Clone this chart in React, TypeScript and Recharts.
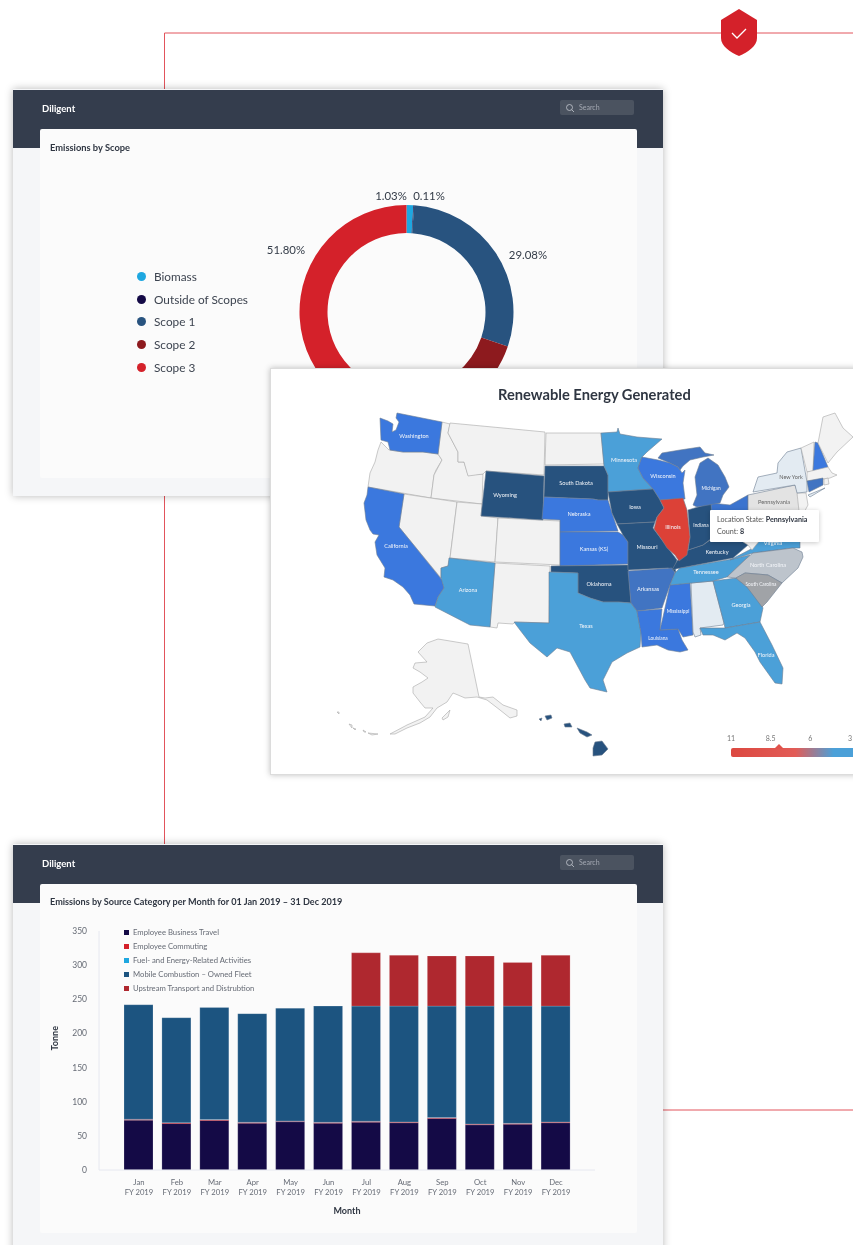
import {
  Bar,
  BarChart,
  Legend,
  Pie,
  PieChart,
  ReferenceDot,
  Scatter,
  ScatterChart,
  XAxis,
  YAxis,
} from 'recharts';

const FONT = 'Lato, sans-serif';

// donut: emissions by scope
const scopeNames = ['Biomass', 'Outside of Scopes', 'Scope 1', 'Scope 2', 'Scope 3'];
const scopeShares = [1.03, 0.11, 29.08, 17.98, 51.8];
const scopeColors = ['#1ea7e0', '#140a46', '#28537f', '#8d1a1e', '#d4212a'];
const scopeLabelAnchors: Record<string, [number, number]> = {
  Biomass: [351, 66],
  'Outside of Scopes': [389, 66],
  'Scope 1': [488, 125],
  'Scope 3': [246, 120],
};

// stacked bars: emissions per month
const months = ['Jan', 'Feb', 'Mar', 'Apr', 'May', 'Jun', 'Jul', 'Aug', 'Sep', 'Oct', 'Nov', 'Dec'];
const businessTravel = [73, 68, 72.5, 68.5, 70.5, 68.5, 70, 69, 75.5, 66, 67, 69];
const commuting = [1, 1, 1, 1, 1, 1, 1, 1, 1, 1, 1, 1];
const fuelEnergy = [0.3, 0.3, 0.3, 0.3, 0.3, 0.3, 0.3, 0.3, 0.3, 0.3, 0.3, 0.3];
const mobileFleet = [167.7, 153.7, 164.2, 159.2, 165.2, 170.2, 168.7, 169.7, 163.2, 172.7, 171.7, 169.7];
const upstream = [0, 0, 0, 0, 0, 0, 78, 74.5, 73.5, 73.5, 64, 74.5];
const tonneTicks = [0, 50, 100, 150, 200, 250, 300, 350];
const sourceSeries = [
  { key: 'travel', name: 'Employee Business Travel', color: '#140a46' },
  { key: 'commuting', name: 'Employee Commuting', color: '#d4212a' },
  { key: 'fuel', name: 'Fuel- and Energy-Related Activities', color: '#1ea7e0' },
  { key: 'fleet', name: 'Mobile Combustion – Owned Fleet', color: '#1c5480' },
  { key: 'upstream', name: 'Upstream Transport and Distrubtion', color: '#af282f' },
];
const thinSeries = ['commuting', 'fuel'];
const monthRows = months.map((month, i) => ({
  month,
  travel: businessTravel[i],
  commuting: commuting[i],
  fuel: fuelEnergy[i],
  fleet: mobileFleet[i],
  upstream: upstream[i],
}));

// map outlines (x, y on the map's own grid)
type Ring = [number, number][];
const washington: Ring = [[397,413],[442,422],[438,454],[423,452],[403,452],[390,450],[388,442],[381,440],[380,418],[388,421],[393,424],[392,432],[396,430],[399,422],[396,418]];
const oregon: Ring = [[381,442],[389,450],[403,452],[423,452],[438,454],[442,460],[436,470],[434,475],[431,498],[368,487],[370,473],[375,462],[378,450]];
const california: Ring = [[368,487],[404,494],[399,527],[442,580],[444,588],[438,597],[435,606],[414,604],[410,595],[403,587],[393,580],[384,577],[385,568],[377,555],[375,542],[379,535],[373,534],[370,530],[366,520],[364,503],[367,495]];
const nevada: Ring = [[404,494],[457,502],[450,558],[448,566],[441,568],[441,578],[399,527]];
const idaho: Ring = [[442,422],[450,424],[448,433],[458,452],[458,462],[464,462],[468,475],[483,474],[482,504],[431,498],[434,475],[442,460],[438,454]];
const montana: Ring = [[450,423],[545,432],[544,475],[486,471],[483,474],[468,476],[464,462],[458,462],[458,452],[448,433]];
const wyoming: Ring = [[486,471],[544,476],[543,520],[481,516]];
const utah: Ring = [[457,502],[482,504],[481,516],[498,518],[495,562],[450,558]];
const colorado: Ring = [[498,518],[560,521],[560,565],[495,562]];
const newMexico: Ring = [[495,563],[550,566],[549,623],[515,622],[513,624],[498,623],[497,628],[490,627]];
const arizona: Ring = [[449,558],[495,563],[490,627],[470,625],[435,607],[438,597],[444,588],[441,578],[441,568],[448,566]];
const northDakota: Ring = [[546,433],[601,433],[604,464],[545,465]];
const southDakota: Ring = [[545,466],[604,466],[608,475],[608,500],[598,500],[593,499],[544,497]];
const nebraska: Ring = [[544,497],[593,499],[598,500],[608,500],[612,513],[618,531],[560,532],[560,520],[542,519]];
const kansas: Ring = [[560,532],[618,532],[623,535],[628,542],[628,564],[560,566]];
const oklahoma: Ring = [[551,566],[628,565],[631,603],[618,602],[603,602],[590,598],[578,593],[578,573],[551,572]];
const texas: Ring = [[549,572],[578,573],[578,593],[590,598],[603,602],[618,602],[631,603],[637,611],[641,633],[640,647],[627,653],[612,662],[603,680],[607,692],[590,688],[585,680],[570,652],[557,648],[547,657],[530,643],[520,630],[514,622],[549,623]];
const minnesota: Ring = [[601,433],[617,432],[618,428],[620,434],[637,437],[662,439],[647,452],[642,457],[638,468],[643,478],[653,489],[608,492],[608,475],[604,466]];
const wisconsin: Ring = [[642,457],[658,460],[670,463],[678,467],[682,473],[685,470],[683,483],[685,499],[660,500],[653,489],[643,478],[638,468]];
const iowa: Ring = [[608,492],[653,489],[660,500],[664,508],[657,517],[655,522],[617,524],[612,513]];
const missouri: Ring = [[617,524],[655,522],[653,528],[662,540],[668,548],[677,560],[675,567],[676,573],[672,570],[668,568],[628,570],[628,542],[623,535]];
const illinois: Ring = [[660,500],[683,498],[687,510],[690,537],[687,555],[679,561],[675,555],[667,548],[662,540],[654,529],[657,517],[664,508]];
const arkansas: Ring = [[628,571],[672,568],[675,573],[670,585],[662,608],[637,611],[631,603]];
const louisiana: Ring = [[637,611],[662,609],[660,630],[678,629],[682,640],[688,650],[680,652],[668,650],[657,645],[642,647],[641,633]];
const mississippi: Ring = [[670,585],[690,583],[693,635],[683,637],[678,629],[660,630],[663,617]];
const alabama: Ring = [[691,583],[713,581],[724,623],[723,625],[700,628],[701,635],[695,637],[693,632]];
const georgia: Ring = [[713,581],[736,578],[747,587],[760,602],[763,608],[760,622],[725,628],[724,623]];
const florida: Ring = [[700,628],[725,628],[760,622],[772,645],[783,668],[782,684],[775,683],[760,662],[755,652],[745,638],[737,633],[725,640],[713,635],[703,635]];
const southCarolina: Ring = [[736,578],[745,573],[768,575],[782,583],[767,602],[762,607],[747,587]];
const northCarolina: Ring = [[727,577],[747,558],[753,553],[793,548],[802,552],[803,557],[798,568],[782,583],[768,575],[745,573],[736,578]];
const tennessee: Ring = [[675,573],[680,568],[733,559],[750,555],[747,558],[727,577],[713,581],[670,585]];
const virginia: Ring = [[730,560],[753,548],[765,535],[800,533],[800,548],[793,548],[753,553]];
const kentucky: Ring = [[672,570],[677,561],[688,550],[703,545],[713,538],[742,535],[748,545],[733,558],[680,568]];
const indiana: Ring = [[688,510],[711,503],[716,535],[703,545],[688,550],[690,537]];
const ohio: Ring = [[711,503],[730,505],[748,495],[748,510],[747,538],[713,538]];
const michiganLower: Ring = [[693,505],[697,495],[695,477],[700,463],[708,458],[718,465],[725,477],[729,487],[723,495],[720,503],[697,507]];
const michiganUpper: Ring = [[658,458],[662,453],[680,450],[700,447],[705,453],[714,455],[703,457],[690,460],[683,466],[680,470],[678,467],[670,463]];
const pennsylvania: Ring = [[748,495],[795,485],[801,502],[800,518],[748,520]];
const westVirginia: Ring = [[740,540],[748,545],[752,550],[760,540],[765,535],[760,510],[748,510]];
const newJersey: Ring = [[797,493],[806,493],[808,505],[800,520]];
const newYork: Ring = [[753,492],[758,477],[777,473],[778,463],[787,452],[801,448],[807,482],[807,492],[797,493],[795,485]];
const longIsland: Ring = [[808,495],[825,488],[810,497]];
const vermont: Ring = [[801,448],[814,442],[813,471],[807,472]];
const newHampshire: Ring = [[815,442],[818,443],[828,467],[825,470],[813,471]];
const maine: Ring = [[823,417],[835,413],[843,428],[853,437],[837,452],[828,463],[818,443]];
const massachusetts: Ring = [[807,472],[828,467],[832,473],[837,475],[830,478],[824,479],[807,481]];
const connecticut: Ring = [[807,481],[823,478],[823,485],[809,492]];
const rhodeIsland: Ring = [[824,479],[828,478],[829,484],[824,485]];
const hawaiiBig: Ring = [[593,748],[595,742],[602,741],[608,749],[602,755],[593,756]];
const hawaiiMaui: Ring = [[577,728],[587,732],[592,735],[587,737],[580,733]];
const hawaiiOahu: Ring = [[564,724],[570,723],[572,727],[565,727]];
const hawaiiKauai: Ring = [[545,716],[551,715],[552,718],[547,720]];
const hawaiiNiihau: Ring = [[539,719],[542,718],[541,721]];
const alaska: Ring = [[438,639],[468,644],[479,697],[485,698],[493,697],[503,705],[517,710],[517,716],[510,718],[500,710],[487,700],[477,697],[465,698],[458,695],[453,693],[447,702],[437,708],[430,717],[420,723],[407,728],[395,734],[390,734],[407,725],[425,717],[433,708],[425,708],[420,702],[413,693],[413,687],[422,682],[428,678],[420,672],[413,668],[415,663],[427,662],[418,652],[427,643]];
const kodiak: Ring = [[442,718],[450,710],[448,717],[443,720]];
const aleutianA: Ring = [[337,712],[339,712],[339,714]];
const aleutianB: Ring = [[349,724],[352,725],[352,728]];
const aleutianC: Ring = [[353,728],[356,729],[355,730]];
const aleutianD: Ring = [[363,730],[366,732],[364,732]];
const aleutianE: Ring = [[368,733],[378,734],[372,735]];

const NAVY = '#27527e';
const BLUE = '#3b78de';
const SKY = '#4ba0d8';
const MID = '#4174c2';
const PALE = '#f2f2f2';

const mapShapes: { ring: Ring; fill: string }[] = [
  { ring: oregon, fill: PALE }, { ring: idaho, fill: PALE }, { ring: montana, fill: PALE },
  { ring: nevada, fill: PALE }, { ring: utah, fill: PALE }, { ring: colorado, fill: PALE },
  { ring: newMexico, fill: PALE }, { ring: northDakota, fill: PALE },
  { ring: washington, fill: BLUE }, { ring: california, fill: BLUE },
  { ring: wyoming, fill: NAVY }, { ring: arizona, fill: SKY },
  { ring: southDakota, fill: NAVY }, { ring: nebraska, fill: BLUE }, { ring: kansas, fill: BLUE },
  { ring: oklahoma, fill: NAVY }, { ring: texas, fill: SKY }, { ring: minnesota, fill: SKY },
  { ring: wisconsin, fill: BLUE }, { ring: iowa, fill: NAVY }, { ring: missouri, fill: NAVY },
  { ring: arkansas, fill: MID }, { ring: louisiana, fill: BLUE }, { ring: mississippi, fill: BLUE },
  { ring: alabama, fill: '#e3ebf2' }, { ring: georgia, fill: SKY }, { ring: florida, fill: SKY },
  { ring: tennessee, fill: SKY }, { ring: virginia, fill: SKY }, { ring: kentucky, fill: NAVY },
  { ring: indiana, fill: NAVY }, { ring: ohio, fill: '#3b74cf' }, { ring: illinois, fill: '#dc4137' },
  { ring: michiganLower, fill: MID }, { ring: michiganUpper, fill: MID },
  { ring: westVirginia, fill: PALE }, { ring: pennsylvania, fill: '#e3e3e3' },
  { ring: northCarolina, fill: '#bdc4cc' }, { ring: southCarolina, fill: '#a0a3a7' },
  { ring: newJersey, fill: PALE }, { ring: newYork, fill: '#e3ebf2' }, { ring: longIsland, fill: '#e3ebf2' },
  { ring: vermont, fill: PALE }, { ring: newHampshire, fill: BLUE }, { ring: maine, fill: PALE },
  { ring: massachusetts, fill: PALE }, { ring: connecticut, fill: MID }, { ring: rhodeIsland, fill: PALE },
  { ring: hawaiiBig, fill: NAVY }, { ring: hawaiiMaui, fill: NAVY }, { ring: hawaiiOahu, fill: NAVY },
  { ring: hawaiiKauai, fill: NAVY }, { ring: hawaiiNiihau, fill: NAVY },
  { ring: alaska, fill: PALE }, { ring: kodiak, fill: PALE }, { ring: aleutianA, fill: PALE },
  { ring: aleutianB, fill: PALE }, { ring: aleutianC, fill: PALE }, { ring: aleutianD, fill: PALE },
  { ring: aleutianE, fill: PALE },
];

const stateLabels: [string, number, number][] = [
  ['Washington', 414, 436], ['California', 396, 546], ['Wyoming', 505, 495], ['Arizona', 468, 590],
  ['South Dakota', 576, 483], ['Nebraska', 579, 514], ['Kansas (KS)', 594, 549], ['Oklahoma', 599, 584],
  ['Texas', 586, 626], ['Minnesota', 624, 460], ['Wisconsin', 663, 476], ['Iowa', 635, 507],
  ['Missouri', 647, 547], ['Illinois', 673, 527], ['Arkansas', 648, 589], ['Mississippi', 678, 611],
  ['Louisiana', 658, 638], ['Indiana', 701, 525], ['Kentucky', 717, 552], ['Tennessee', 706, 572],
  ['Michigan', 711, 488], ['New York', 791, 477], ['Pennsylvania', 774, 502], ['Virginia', 773, 543],
  ['North Carolina', 768, 565], ['South Carolina', 761, 584], ['Georgia', 741, 605], ['Florida', 766, 655],
];
const darkLabels = ['New York', 'Pennsylvania'];
const smallLabels = ['Mississippi', 'Louisiana', 'South Carolina', 'Michigan', 'Indiana'];

const gradientTicks = ['11', '8.5', '6', '3'];

function ScopeLabel(props: any) {
  const anchor = scopeLabelAnchors[props.name];
  if (!anchor) return null;
  return (
    <text x={anchor[0]} y={anchor[1] + 2} fontSize={11.4} fill="#333b47" textAnchor="middle" dominantBaseline="middle" fontFamily={FONT}>
      {props.value.toFixed(2)}%
    </text>
  );
}

function ScopeLegend({ payload }: any) {
  return (
    <div>
      {(payload ?? []).map((item: any) => (
        <div key={item.value} style={{ display: 'flex', alignItems: 'center', height: 22.7, fontFamily: FONT, fontSize: 11.8, color: '#3d4450' }}>
          <span style={{ width: 9, height: 9, borderRadius: '50%', background: item.color, marginRight: 8 }} />
          {item.value}
        </div>
      ))}
    </div>
  );
}

function SourceLegend({ payload }: any) {
  return (
    <div>
      {(payload ?? []).map((item: any) => (
        <div key={item.value} style={{ display: 'flex', alignItems: 'center', height: 14, fontFamily: FONT, fontSize: 7.7, color: '#666b75' }}>
          <span style={{ width: 5, height: 5, background: item.color, marginRight: 4 }} />
          {item.value}
        </div>
      ))}
    </div>
  );
}

function MonthTick({ x, y, payload }: any) {
  return (
    <text x={x} y={y} fontSize={7.7} fill="#666b75" textAnchor="middle" fontFamily={FONT}>
      <tspan x={x} dy={7}>{payload.value}</tspan>
      <tspan x={x} dy={10}>FY 2019</tspan>
    </text>
  );
}

function Header({ title, top }: { title: string; top: number }) {
  return (
    <div style={{ position: 'absolute', left: 13, top, width: 650, height: 58, background: '#343d4d' }}>
      <span style={{ position: 'absolute', left: 29, top: 12.5, color: '#fff', fontWeight: 700, fontSize: 9.5, fontFamily: FONT }}>{title}</span>
      <div style={{ position: 'absolute', left: 547, top: 10, width: 74, height: 15, background: '#4b5360', borderRadius: 2 }}>
        <svg width="10" height="10" style={{ position: 'absolute', left: 5, top: 3 }}>
          <circle cx="4.5" cy="4.5" r="3" fill="none" stroke="#c5c9d0" strokeWidth="0.8" />
          <line x1="6.7" y1="6.7" x2="9" y2="9" stroke="#c5c9d0" strokeWidth="0.8" />
        </svg>
        <span style={{ position: 'absolute', left: 19, top: 3, fontSize: 7, color: '#a3a8b2', fontFamily: FONT }}>Search</span>
      </div>
    </div>
  );
}

export default function App() {
  return (
    <div style={{ position: 'absolute', left: 0, top: 0, width: 853, height: 1245, overflow: 'hidden', background: '#fff', fontFamily: FONT, filter: 'blur(0.35px)' }}>
      {/* connector lines and shield */}
      <svg width="853" height="1245" style={{ position: 'absolute', left: 0, top: 0 }}>
        <path d="M164.5 89V33H853M164.5 496V845M663 1110H853" fill="none" stroke="#e2545c" strokeWidth="1" />
        <path d="M739 9L757 20V38C757 46 748 52 739 56C730 52 721 46 721 38V20Z" fill="#d4212a" />
        <path d="M732 33L737 38L746 29" fill="none" stroke="#fff" strokeWidth="1.3" />
      </svg>

      {/* top panel */}
      <div style={{ position: 'absolute', left: 13, top: 89, width: 650, height: 407, background: '#f5f6f8', boxShadow: '0 0 8px rgba(0,0,0,0.28)' }} />
      <Header title="Diligent" top={90} />
      <div style={{ position: 'absolute', left: 40, top: 129, width: 597, height: 349, background: '#fbfbfb', borderRadius: 2 }}>
        <div style={{ position: 'absolute', left: 10, top: 13, fontSize: 9.3, fontWeight: 700, color: '#2f3642' }}>Emissions by Scope</div>
        <PieChart width={597} height={349} margin={{ top: 0, right: 0, bottom: 0, left: 0 }} style={{ position: 'absolute', left: 0, top: 0 }}>
          <Pie
            data={scopeNames.map((name, i) => ({ name, value: scopeShares[i], fill: scopeColors[i] }))}
            dataKey="value"
            nameKey="name"
            cx={366.5}
            cy={183}
            innerRadius={79}
            outerRadius={107}
            startAngle={90}
            endAngle={-270}
            stroke="none"
            label={ScopeLabel}
            labelLine={false}
            isAnimationActive={false}
          />
          <Legend layout="vertical" align="center" verticalAlign="middle" wrapperStyle={{ left: 97, top: 136, width: 140 }} content={ScopeLegend} />
        </PieChart>
      </div>

      {/* map panel */}
      <div style={{ position: 'absolute', left: 270, top: 368, width: 590, height: 407, background: '#fff', border: '1px solid #dcdcdc', boxSizing: 'border-box', boxShadow: '0 0 6px rgba(0,0,0,0.25)' }} />
      <div style={{ position: 'absolute', left: 498, top: 385, whiteSpace: 'nowrap', fontSize: 14.7, fontWeight: 700, color: '#2f3642', lineHeight: '19px' }}>
        Renewable Energy Generated
      </div>
      <ScatterChart width={583} height={406} margin={{ top: 0, right: 0, bottom: 0, left: 0 }} style={{ position: 'absolute', left: 270, top: 368 }}>
        <XAxis type="number" dataKey="x" domain={[270, 853]} hide />
        <YAxis type="number" dataKey="y" domain={[368, 774]} reversed hide />
        {mapShapes.map((shape, i) => (
          <Scatter
            key={i}
            data={[...shape.ring, shape.ring[0]].map(([x, y]) => ({ x, y }))}
            line={{ fill: shape.fill, stroke: shape.fill === PALE ? '#a8a8a8' : '#6d7d92', strokeWidth: 0.6 }}
            shape={() => <g />}
            isAnimationActive={false}
          />
        ))}
        {stateLabels.map(([name, x, y]) => (
          <ReferenceDot
            key={name}
            x={x}
            y={y}
            r={0}
            fill="none"
            stroke="none"
            ifOverflow="visible"
            label={{
              value: name,
              position: 'center',
              fontSize: smallLabels.includes(name) ? 4.8 : 5.6,
              fill: darkLabels.includes(name) ? '#666' : '#f4f6fa',
              fontFamily: FONT,
            }}
          />
        ))}
      </ScatterChart>

      {/* map tooltip */}
      <div style={{ position: 'absolute', left: 710, top: 510, width: 109, height: 32, background: '#fff', boxShadow: '0 1px 5px rgba(0,0,0,0.22)', borderRadius: 1, fontSize: 7.2, color: '#555' }}>
        <div style={{ position: 'absolute', left: 7, top: 5, whiteSpace: 'nowrap' }}>
          Location State: <b style={{ color: '#2f3642' }}>Pennsylvania</b>
        </div>
        <div style={{ position: 'absolute', left: 7, top: 17 }}>
          Count: <b style={{ color: '#2f3642' }}>8</b>
        </div>
      </div>

      {/* map colour scale */}
      {gradientTicks.map((tick, i) => (
        <span key={tick} style={{ position: 'absolute', left: 731 + i * 39.7 - 8, top: 734, width: 16, textAlign: 'center', fontSize: 7, color: '#777' }}>{tick}</span>
      ))}
      <div style={{ position: 'absolute', left: 731, top: 748, width: 122, height: 9, borderRadius: '2px 0 0 2px', background: 'linear-gradient(90deg, #dc4840 0%, #e25c57 53%, #4ba0d8 84%, #4ba0d8 100%)' }} />
      <svg width="10" height="5" style={{ position: 'absolute', left: 774, top: 744 }}>
        <path d="M0 5L5 0L10 5Z" fill="#e0524b" />
      </svg>

      {/* bottom panel */}
      <div style={{ position: 'absolute', left: 13, top: 844, width: 650, height: 420, background: '#f5f6f8', boxShadow: '0 0 8px rgba(0,0,0,0.28)' }} />
      <Header title="Diligent" top={845} />
      <div style={{ position: 'absolute', left: 40, top: 884, width: 597, height: 349, background: '#fbfbfb', borderRadius: 2 }}>
        <div style={{ position: 'absolute', left: 10, top: 12, fontSize: 9.1, fontWeight: 700, color: '#2f3642', whiteSpace: 'nowrap' }}>
          Emissions by Source Category per Month for 01 Jan 2019 – 31 Dec 2019
        </div>
        <BarChart width={597} height={349} data={monthRows} margin={{ top: 47, right: 42, bottom: 0, left: 0 }} style={{ position: 'absolute', left: 0, top: 0 }}>
          <XAxis
            dataKey="month"
            height={63}
            padding={{ left: 21, right: 20 }}
            axisLine={{ stroke: '#e6e8f0' }}
            tickLine={false}
            interval={0}
            tick={<MonthTick />}
            label={{ value: 'Month', position: 'insideBottom', offset: 19, fontSize: 9, fontWeight: 700, fill: '#2f3642', fontFamily: FONT }}
          />
          <YAxis
            width={59}
            domain={[0, 350]}
            ticks={tonneTicks}
            axisLine={{ stroke: '#e6e8f0' }}
            tickLine={false}
            tickMargin={6}
            tick={{ fontSize: 8.5, fill: '#666b75', fontFamily: FONT }}
            label={{ value: 'Tonne', angle: -90, position: 'insideLeft', offset: 15, fontSize: 9, fontWeight: 700, fill: '#2f3642', fontFamily: FONT }}
          />
          <Legend layout="vertical" align="center" verticalAlign="middle" wrapperStyle={{ left: 84, top: 41, width: 220 }} content={SourceLegend} />
          {sourceSeries.map((series) => (
            <Bar
              key={series.key}
              dataKey={series.key}
              name={series.name}
              stackId="source"
              fill={series.color}
              stroke={thinSeries.includes(series.key) ? 'none' : 'rgba(255,255,255,0.3)'}
              strokeWidth={0.6}
              barSize={29}
              isAnimationActive={false}
            />
          ))}
        </BarChart>
      </div>
    </div>
  );
}
